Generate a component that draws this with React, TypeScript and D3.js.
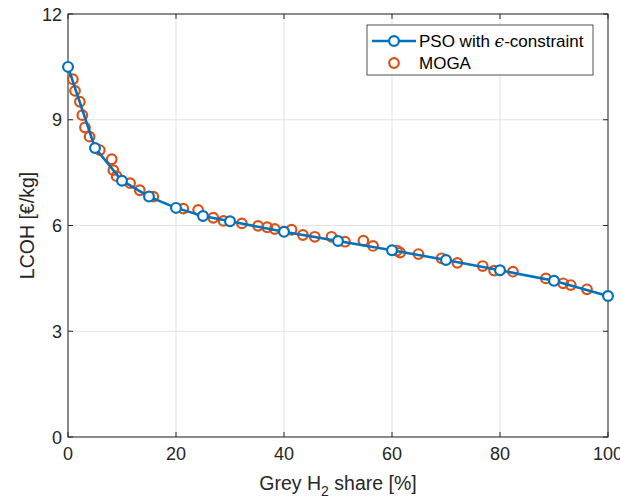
import React from "react";
import * as d3 from "d3";

const psoX = [0, 5, 10, 15, 20, 25, 30, 40, 50, 60, 70, 80, 90, 100];
const psoY = [10.5, 8.2, 7.27, 6.82, 6.5, 6.27, 6.12, 5.82, 5.56, 5.3, 5.02, 4.73, 4.43, 4.0];

const mogaX = [0.9, 1.3, 2.2, 2.65, 3.15, 4.0, 5.9, 8.1, 8.4, 9.0, 11.5, 13.3, 15.8, 21.35, 24.1, 26.9, 28.8, 32.2, 35.2, 36.9, 38.3, 41.4, 43.5, 45.7, 48.8, 51.3, 54.7, 56.5, 60.9, 61.5, 64.9, 69.2, 72.1, 76.8, 78.9, 82.4, 88.5, 91.7, 93.1, 96.1];
const mogaY = [10.15, 9.82, 9.51, 9.13, 8.78, 8.52, 8.14, 7.88, 7.57, 7.4, 7.2, 7.0, 6.82, 6.48, 6.44, 6.22, 6.13, 6.06, 5.99, 5.95, 5.9, 5.88, 5.73, 5.68, 5.68, 5.54, 5.57, 5.42, 5.29, 5.23, 5.19, 5.07, 4.94, 4.85, 4.72, 4.69, 4.5, 4.36, 4.31, 4.19];

const xTicks = [0, 20, 40, 60, 80, 100];
const yTicks = [0, 3, 6, 9, 12];

const W = 620, H = 501;
const L = 68, R = 608, T = 14, B = 437;
const axisCol = "#262626";
const gridCol = "#e3e3e3";
const blue = "#0072BD";
const orange = "#D95319";
const font = "'Liberation Sans', Arial, sans-serif";

export default function App() {
  const x = d3.scaleLinear().domain([0, 100]).range([L, R]);
  const y = d3.scaleLinear().domain([0, 12]).range([B, T]);
  const line = d3.line<number>().x((_, i) => x(psoX[i])).y((d) => y(d));
  const tl = 5;
  return (
    <svg width={W} height={H} style={{ position: "absolute", left: 0, top: 0, background: "#fff" }} fontFamily={font}>
      <rect x={0} y={0} width={W} height={H} fill="#fff" />
      {xTicks.map((t) => (
        <line key={"gx" + t} x1={x(t)} x2={x(t)} y1={T} y2={B} stroke={gridCol} strokeWidth={1} />
      ))}
      {yTicks.map((t) => (
        <line key={"gy" + t} x1={L} x2={R} y1={y(t)} y2={y(t)} stroke={gridCol} strokeWidth={1} />
      ))}
      <rect x={L} y={T} width={R - L} height={B - T} fill="none" stroke={axisCol} strokeWidth={1} />
      {xTicks.map((t) => (
        <g key={"tx" + t}>
          <line x1={x(t)} x2={x(t)} y1={B} y2={B - tl} stroke={axisCol} />
          <line x1={x(t)} x2={x(t)} y1={T} y2={T + tl} stroke={axisCol} />
          <text x={x(t)} y={B + 23} textAnchor="middle" fontSize={18} fill={axisCol}>{t}</text>
        </g>
      ))}
      {yTicks.map((t) => (
        <g key={"ty" + t}>
          <line x1={L} x2={L + tl} y1={y(t)} y2={y(t)} stroke={axisCol} />
          <line x1={R} x2={R - tl} y1={y(t)} y2={y(t)} stroke={axisCol} />
          <text x={L - 6} y={y(t) + 6.5} textAnchor="end" fontSize={18} fill={axisCol}>{t}</text>
        </g>
      ))}
      <text x={(L + R) / 2} y={490} textAnchor="middle" fontSize={19.5} fill={axisCol}>
        Grey H<tspan fontSize={14} dy={6}>2</tspan><tspan dy={-6}> share [%]</tspan>
      </text>
      <text transform={`translate(34,${(T + B) / 2}) rotate(-90)`} textAnchor="middle" fontSize={19.5} fill={axisCol}>
        LCOH [€/kg]
      </text>
      {mogaX.map((v, i) => (
        <circle key={"m" + i} cx={x(v)} cy={y(mogaY[i])} r={4.8} fill="none" stroke={orange} strokeWidth={2.2} />
      ))}
      <path d={line(psoY) || ""} fill="none" stroke={blue} strokeWidth={2.6} />
      {psoX.map((v, i) => (
        <circle key={"p" + i} cx={x(v)} cy={y(psoY[i])} r={4.9} fill="#fff" stroke={blue} strokeWidth={2.2} />
      ))}
      <g>
        <rect x={367} y={25} width={226} height={50} fill="#fff" stroke={axisCol} strokeWidth={0.8} />
        <line x1={372} x2={416} y1={41} y2={41} stroke={blue} strokeWidth={2.6} />
        <circle cx={394} cy={41} r={4.9} fill="#fff" stroke={blue} strokeWidth={2.2} />
        <text x={419} y={47} fontSize={17} fill="#000">PSO with <tspan fontStyle="italic" fontFamily="'DejaVu Serif', serif">ϵ</tspan>-constraint</text>
        <circle cx={394} cy={63} r={4.8} fill="none" stroke={orange} strokeWidth={2.2} />
        <text x={419} y={69} fontSize={17} fill="#000">MOGA</text>
      </g>
    </svg>
  );
}
